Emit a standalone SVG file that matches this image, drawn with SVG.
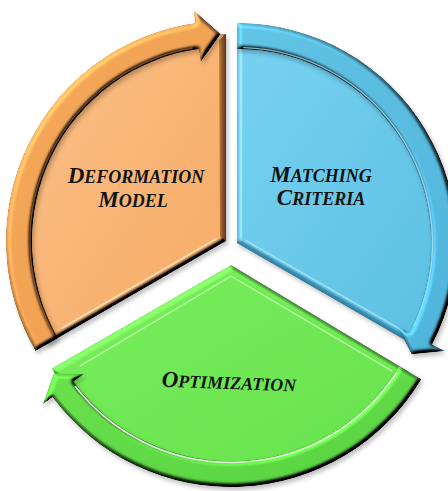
<svg xmlns="http://www.w3.org/2000/svg" width="448" height="491" viewBox="0 0 448 491">
  <defs>
    <style>
      .label { font-family: "Liberation Serif", "Times New Roman", serif; font-weight: bold; font-style: italic; fill: #141414; text-anchor: middle; }
      .cap { font-size: 23px; }
      .sc { font-size: 18px; }
      .raised { filter: url(#bevel); }
      .glint { fill: none; stroke-linecap: round; }
    </style>
    <linearGradient id="orangeBody" x1="0" y1="0" x2="1" y2="1">
      <stop offset="0" stop-color="#FBC189"/>
      <stop offset="1" stop-color="#F6AA63"/>
    </linearGradient>
    <linearGradient id="orangeBand" x1="0" y1="0" x2="1" y2="1">
      <stop offset="0" stop-color="#F5AA5C"/>
      <stop offset="1" stop-color="#EE9C4C"/>
    </linearGradient>
    <linearGradient id="orangeSide" x1="0" y1="0" x2="1" y2="0">
      <stop offset="0" stop-color="#C98240"/>
      <stop offset="0.5" stop-color="#8A5428"/>
      <stop offset="1" stop-color="#5A3820"/>
    </linearGradient>
    <linearGradient id="blueBody" x1="0" y1="0" x2="1" y2="1">
      <stop offset="0" stop-color="#78D2F0"/>
      <stop offset="1" stop-color="#5BBFE2"/>
    </linearGradient>
    <linearGradient id="blueBand" x1="0" y1="0" x2="1" y2="1">
      <stop offset="0" stop-color="#62C4E6"/>
      <stop offset="1" stop-color="#50B4DA"/>
    </linearGradient>
    <linearGradient id="greenBody" x1="0" y1="0" x2="1" y2="1">
      <stop offset="0" stop-color="#7AEE5E"/>
      <stop offset="1" stop-color="#66E24C"/>
    </linearGradient>
    <linearGradient id="greenBand" x1="0" y1="0" x2="1" y2="1">
      <stop offset="0" stop-color="#6AE24E"/>
      <stop offset="1" stop-color="#58D240"/>
    </linearGradient>
    <!-- bevel lit from the upper left, plus a light drop shadow -->
    <filter id="bevel" x="-10%" y="-10%" width="120%" height="120%" color-interpolation-filters="sRGB">
      <feGaussianBlur in="SourceAlpha" stdDeviation="2.2" result="blur"/>
      <feDiffuseLighting in="blur" surfaceScale="6" diffuseConstant="1" lighting-color="#ffffff" result="light">
        <feDistantLight azimuth="225" elevation="52"/>
      </feDiffuseLighting>
      <feComposite in="SourceGraphic" in2="light" operator="arithmetic" k1="1.27" k2="0" k3="0" k4="0" result="lit"/>
      <feComposite in="lit" in2="SourceAlpha" operator="in" result="bev"/>
      <feGaussianBlur in="SourceAlpha" stdDeviation="2" result="sb"/>
      <feOffset in="sb" dx="1.5" dy="2.5" result="so"/>
      <feFlood flood-color="#000000" flood-opacity="0.25"/>
      <feComposite in2="so" operator="in" result="sh"/>
      <feMerge>
        <feMergeNode in="sh"/>
        <feMergeNode in="bev"/>
      </feMerge>
    </filter>
  </defs>

  <!-- segment: Deformation Model (upper left) -->
  <g id="node-deformation-model">
    <path class="raised" d="M226,241 L46.7,344.5 A207,207 0 0 1 226,34 Z" fill="url(#orangeBody)"/>
    <!-- dark side face on the right edge, light glint on the lower edge -->
    <path d="M219,40 L226,34 L226,241 L220,236 Z" fill="url(#orangeSide)"/>
    <path class="glint" d="M216,239 L62,328" stroke="#FFE4BE" stroke-width="2" opacity="0.85"/>
    <text class="label" x="136" y="183"><tspan class="cap">D</tspan><tspan class="sc">EFORMATION</tspan></text>
    <text class="label" x="133" y="207"><tspan class="cap">M</tspan><tspan class="sc">ODEL</tspan></text>
  </g>

  <!-- segment: Matching Criteria (right) -->
  <g id="node-matching-criteria">
    <path class="raised" d="M237,243 L237,36 A207,207 0 0 1 416.3,346.5 Z" fill="url(#blueBody)"/>
    <!-- darker lower bevel with a glint line -->
    <path d="M237,243 L416.3,346.5 L408,337 L243,242 Z" fill="#3E9CC4" opacity="0.75"/>
    <path class="glint" d="M245,240 L400,329" stroke="#A8E6F8" stroke-width="1.5" opacity="0.8"/>
    <path class="glint" d="M241,52 L241,236" stroke="#B2EAFA" stroke-width="1.5" opacity="0.7"/>
    <text class="label" x="321" y="182"><tspan class="cap">M</tspan><tspan class="sc">ATCHING</tspan></text>
    <text class="label" x="321" y="205"><tspan class="cap">C</tspan><tspan class="sc">RITERIA</tspan></text>
  </g>

  <!-- segment: Optimization (bottom) -->
  <g id="node-optimization">
    <path class="raised" d="M231,265 L408.4,371.6 A207,207 0 0 1 51.7,368.5 Z" fill="url(#greenBody)"/>
    <!-- inner glint lines along the two upper edges -->
    <path class="glint" d="M80,366 L231,276 L392,371" stroke="#C8FFB0" stroke-width="1.5" opacity="0.7"/>
    <text class="label" x="229" y="389" transform="rotate(2 229 383)"><tspan class="cap">O</tspan><tspan class="sc">PTIMIZATION</tspan></text>
  </g>

  <!-- clockwise arrows along the outer rim -->
  <g id="connectors">
    <path id="arrow-deformation-to-matching" class="raised" fill="url(#orangeBand)"
          d="M35.5,351 A220,220 0 0 1 195.4,23.1 L193.6,10.3 L220.6,34.1 L200.8,61.8 L199,48.9 A194,194 0 0 0 58,338 Z"/>
    <path id="arrow-matching-to-optimization" class="raised" fill="url(#blueBand)"
          d="M237,23 A220,220 0 0 1 432.1,344.6 L444.6,351 L411.6,354.2 L397.5,326.6 L409.1,332.6 A194,194 0 0 0 237,49 Z"/>
    <path id="arrow-optimization-to-deformation" class="raised" fill="url(#greenBand)"
          d="M421.3,379.3 A222,222 0 0 1 52.5,397 L42.9,404.2 L53.7,373.7 L83.9,373.9 L73.4,381.6 A196,196 0 0 0 399,365.9 Z"/>
    <!-- groove lines along the inner edge of each rim band -->
    <path class="glint" d="M52.9,333 A196,196 0 0 1 192,48" stroke="#A86226" stroke-width="1.3" opacity="0.75"/>
    <path class="glint" d="M243.8,47.6 A195.5,195.5 0 0 1 414.2,325.6" stroke="#A6E4F7" stroke-width="1.3" opacity="0.8"/>
    <path class="glint" d="M396.6,372.6 A197.5,197.5 0 0 1 75.4,386.6" stroke="#F6FFF2" stroke-width="1.6" opacity="0.9"/>
  </g>
</svg>
